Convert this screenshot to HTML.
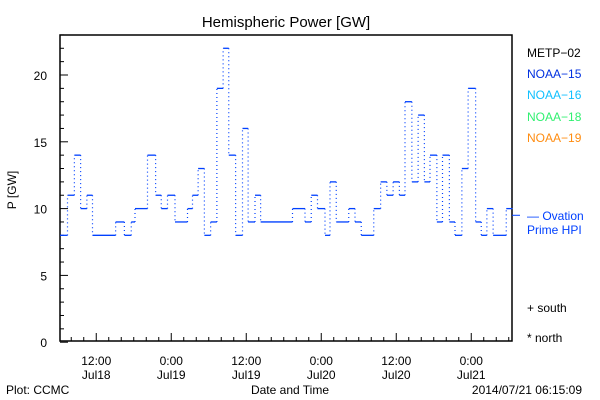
<!DOCTYPE html>
<html><head><meta charset="utf-8"><style>
body{margin:0;background:#fff;}
svg{display:block;font-family:"Liberation Sans",sans-serif;}
</style></head><body>
<svg id="chart" width="600" height="400" viewBox="0 0 600 400">
<rect width="600" height="400" fill="#fff"/>
<text x="286" y="27" font-size="15" text-anchor="middle">Hemispheric Power [GW]</text>
<rect x="60" y="35" width="452" height="306" fill="none" stroke="#000" stroke-width="1.5"/>
<g id="yaxis"></g>
<g id="xaxis"></g>
<g id="series"></g>
<text x="16" y="190" font-size="12" text-anchor="middle" transform="rotate(-90 16 190)">P [GW]</text>
<text x="290" y="394" font-size="12" text-anchor="middle">Date and Time</text>
<text x="6" y="394" font-size="12">Plot: CCMC</text>
<text x="582" y="394" font-size="12" text-anchor="end">2014/07/21 06:15:09</text>
<g font-size="12">
<text x="527" y="57" fill="#000">METP−02</text>
<text x="527" y="78" fill="#0030e0">NOAA−15</text>
<text x="527" y="99" fill="#10c0ff">NOAA−16</text>
<text x="527" y="121" fill="#30f070">NOAA−18</text>
<text x="527" y="142" fill="#ff8c10">NOAA−19</text>
<text x="527" y="220" fill="#0040ff">— Ovation</text>
<text x="527" y="234" fill="#0040ff">Prime HPI</text>
<text x="527" y="312" fill="#000">+ south</text>
<text x="527" y="342" fill="#000">* north</text>
</g>
</svg>
<script>
const startHours = [0,1.2,2.3,3.3,4.3,5.2,8.9,10.3,11.4,12,14,15.3,16.2,17.2,18.4,20.4,21.2,22.1,23.1,24.1,25.1,26.1,27,28.1,29.2,30.1,31.2,32.1,37.2,39.2,40.2,41.2,42.4,43.2,44.2,46.2,47.2,48.2,50.2,51.3,52.3,53.3,54.3,55.2,56.3,57.3,58.3,59.2,60.3,61.2,62.3,63.2,64.3,65.3,66.5,67.4,68.3,69.3,71.4];
const powerValues = [8,11,14,10,11,8,9,8,9,10,14,11,10,11,9,10,11,13,8,9,19,22,14,8,16,9,11,9,10,9,11,10,8,12,9,10,9,8,10,12,11,12,11,18,12,17,12,14,9,14,9,8,13,19,9,8,10,8,10];
const endHour = 72.4;
const ovationValue = 9.5;
const yTickLabels = ["0","5","10","15","20"];
const xTickTop = ["12:00","0:00","12:00","0:00","12:00","0:00"];
const xTickBottom = ["Jul18","Jul19","Jul19","Jul20","Jul20","Jul21"];
const firstMajorHour = 5.8;

const NS="http://www.w3.org/2000/svg";
const X0=60,X1=512,Y0=342.2,PXH=6.25,PXU=13.36;
function xs(h){return X0+h*PXH;}
function ys(v){return Y0-v*PXU;}
function mk(tag,attrs,parent){const e=document.createElementNS(NS,tag);for(const k in attrs)e.setAttribute(k,attrs[k]);parent.appendChild(e);return e;}
const ya=document.getElementById('yaxis'),xa=document.getElementById('xaxis'),sg=document.getElementById('series');
for(let v=0;v<=23;v++){
  const len=v%5===0?8:4;
  const t=mk('line',{x1:X0,x2:X0+len,y1:ys(v),y2:ys(v),stroke:'#000'},ya);
  
  
}
yTickLabels.forEach(l=>{
  const t=mk('text',{x:47,y:ys(+l)+5,'font-size':12,'text-anchor':'end'},ya);
  t.textContent=l;
  
  
});
for(let h=firstMajorHour-4;h<=endHour;h+=2){
  if(h<0)continue;
  const major=Math.abs(((h-firstMajorHour)%12+12)%12)<0.01;
  const t=mk('line',{x1:xs(h),x2:xs(h),y1:341,y2:341-(major?8:4),stroke:'#000'},xa);
  
  
}
xTickTop.forEach((l,i)=>{
  const x=xs(firstMajorHour+12*i);
  const a=mk('text',{x:x,y:365,'font-size':12,'text-anchor':'middle'},xa);
  a.textContent=l;
  
  
  const b=mk('text',{x:x,y:379,'font-size':12,'text-anchor':'middle'},xa);
  b.textContent=xTickBottom[i];
  
  
});
for(let i=0;i<powerValues.length;i++){
  const h0=startHours[i],h1=i+1<startHours.length?startHours[i+1]:endHour;
  const s=mk('line',{x1:xs(h0),x2:xs(h1),y1:ys(powerValues[i]),y2:ys(powerValues[i]),stroke:'#0040ff','stroke-width':1.3},sg);
  
  
  if(i+1<powerValues.length){
    const d=mk('line',{x1:xs(h1),x2:xs(h1),y1:ys(powerValues[i]),y2:ys(powerValues[i+1]),stroke:'#0040ff','stroke-width':1.2,'stroke-dasharray':'1 3'},sg);
    
    
  }
}
const ov=mk('line',{x1:X1,x2:X1+8,y1:ys(ovationValue),y2:ys(ovationValue),stroke:'#0040ff'},sg);


</script>
</body></html>
